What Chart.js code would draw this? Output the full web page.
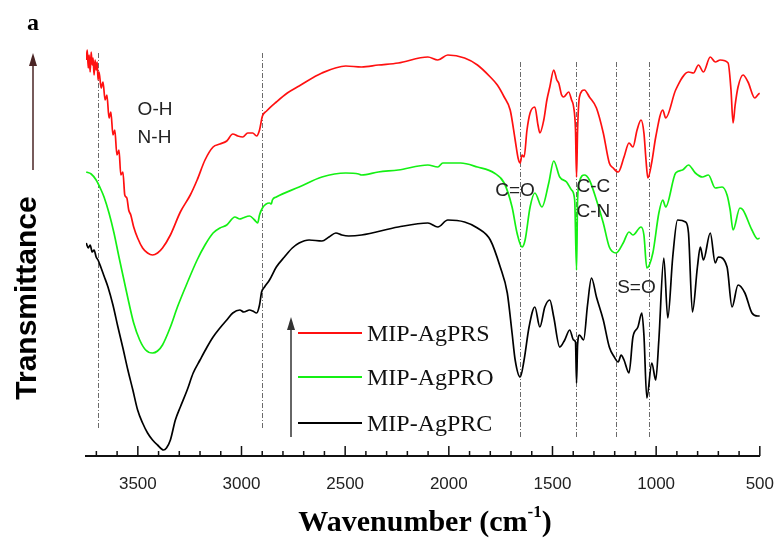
<!DOCTYPE html>
<html>
<head>
<meta charset="utf-8">
<script src="https://cdn.jsdelivr.net/npm/chart.js@4.4.1/dist/chart.umd.min.js"></script>
<style>
  html, body { margin: 0; padding: 0; background: #fff; }
  #wrap { width: 784px; height: 541px; position: relative; }
</style>
</head>
<body>
<div id="wrap"><canvas id="ftir"></canvas></div>
<script>
// FTIR spectra, wavenumber (cm-1) vs transmittance (a.u., curves stacked)
const redWn = [3749,3744,3739,3735,3730,3725,3720,3716,3711,3706,3701,3696,3692,3687,3677,3668,3658,3649,3639,3630,3620,3611,3601,3591,3582,3572,3563,3553,3544,3534,3520,3501,3477,3453,3429,3405,3381,3343,3295,3247,3214,3176,3137,3104,3071,3042,3018,2994,2970,2946,2927,2913,2899,2879,2832,2779,2722,2612,2497,2421,2340,2244,2101,2053,2005,1924,1862,1800,1766,1733,1704,1680,1666,1656,1647,1637,1623,1608,1585,1570,1561,1542,1527,1513,1494,1479,1470,1456,1446,1422,1408,1398,1389,1384,1379,1370,1346,1322,1288,1255,1226,1207,1183,1155,1131,1112,1092,1073,1059,1049,1040,1021,1002,968,954,906,844,820,796,772,739,715,691,653,639,629,619,605,581,557,524,510,500];
const redT = [396,406,388,401,384,404,391,398,381,396,386,394,376,384,368,374,356,361,338,344,321,326,301,306,281,284,261,258,246,241,229,218,208,203,201,203,208,221,244,261,276,296,309,312,315,322,320,319,323,323,320,326,340,345,354,363,370,383,390,389,391,393,399,396,401,398,391,379,371,359,346,316,298,293,301,299,326,343,349,331,323,336,356,369,386,376,373,361,359,364,356,349,326,279,326,359,366,359,348,323,293,288,284,299,313,309,326,336,323,296,278,294,319,346,338,366,384,383,391,384,399,394,396,393,366,333,351,369,381,374,358,361,363];

const greenWn = [3749,3725,3701,3677,3663,3639,3615,3591,3567,3544,3520,3491,3462,3429,3405,3381,3343,3309,3262,3214,3176,3137,3104,3071,3032,3008,2994,2961,2937,2922,2913,2899,2865,2856,2851,2832,2722,2612,2497,2435,2421,2340,2244,2101,2053,2029,1943,1862,1781,1733,1695,1671,1647,1632,1608,1585,1551,1518,1494,1465,1432,1408,1393,1384,1379,1370,1346,1322,1288,1255,1226,1193,1159,1131,1112,1073,1059,1045,1016,987,968,954,906,873,844,811,777,748,715,682,658,643,629,596,581,538,510,500];
const greenT = [284,282,276,266,259,243,223,199,176,154,133,116,106,103,105,111,129,149,173,196,211,223,228,231,239,237,238,240,236,233,241,248,253,252,256,259,269,279,283,282,281,284,286,291,289,293,293,289,283,273,249,223,209,216,249,263,249,273,295,279,274,266,256,186,256,274,281,276,256,233,209,203,213,224,221,229,221,188,203,243,256,249,283,286,291,283,279,281,268,269,261,246,226,248,246,226,217,218];

const blackWn = [3749,3739,3730,3720,3711,3701,3692,3677,3663,3644,3620,3596,3572,3548,3524,3501,3477,3453,3429,3405,3376,3362,3343,3319,3295,3262,3233,3200,3166,3137,3104,3071,3042,3008,2989,2961,2946,2927,2913,2903,2889,2865,2832,2793,2755,2722,2674,2612,2578,2545,2516,2483,2421,2244,2101,2053,2005,1924,1862,1800,1752,1718,1695,1680,1656,1637,1613,1585,1561,1537,1513,1494,1465,1441,1417,1398,1389,1384,1379,1370,1350,1331,1312,1288,1255,1226,1202,1183,1169,1155,1131,1112,1088,1069,1059,1045,1021,1002,987,963,944,920,897,858,844,825,801,787,772,739,715,701,658,634,605,572,538,510,500];
const blackT = [213,208,211,204,206,199,196,188,180,169,151,129,108,86,66,46,33,23,16,11,6,8,16,36,49,66,83,96,109,119,128,136,143,146,144,146,145,143,151,164,169,176,189,199,208,213,216,215,219,223,221,220,221,229,233,229,236,234,228,216,189,163,123,96,79,96,129,149,129,149,156,139,109,116,126,116,114,73,111,121,116,151,178,159,136,109,99,94,101,96,83,119,129,143,121,58,93,76,116,198,138,199,236,234,223,144,189,209,196,223,193,199,189,149,171,163,143,140,140];

const seriesNames = ['MIP-AgPRS', 'MIP-AgPRO', 'MIP-AgPRC'];
const seriesColors = ['#ff1010', '#14f014', '#000000'];

// band positions marked with dashed lines
const markerWn = [3690, 2900, 1655, 1385, 1195, 1035];
const bandNames = ['O-H', 'N-H', 'C=O', 'C-C', 'C-N', 'S=O'];

const SANS = 'Arial, "Liberation Sans", sans-serif';
const SERIF = '"Times New Roman", "Liberation Serif", serif';

function toPoints(wn, t) {
  return wn.map((w, i) => ({ x: w, y: t[i] }));
}

function arrowUp(ctx, x, yBottom, yTop, color) {
  ctx.strokeStyle = color;
  ctx.fillStyle = color;
  ctx.lineWidth = 1.5;
  ctx.beginPath();
  ctx.moveTo(x, yBottom);
  ctx.lineTo(x, yTop + 10);
  ctx.stroke();
  ctx.beginPath();
  ctx.moveTo(x, yTop);
  ctx.lineTo(x - 4, yTop + 13);
  ctx.lineTo(x + 4, yTop + 13);
  ctx.closePath();
  ctx.fill();
}

const decor = {
  id: 'decor',
  beforeDatasetsDraw(chart) {
    const { ctx, scales: { x } } = chart;
    ctx.save();
    ctx.strokeStyle = '#6a6a6a';
    ctx.lineWidth = 1;
    ctx.setLineDash([5, 2, 1, 2]);
    markerWn.forEach((wn, i) => {
      const px = Math.round(x.getPixelForValue(wn)) + 0.5;
      const top = i < 2 ? 53 : 62;
      const bot = i < 2 ? 428 : 437;
      ctx.beginPath();
      ctx.moveTo(px, top);
      ctx.lineTo(px, bot);
      ctx.stroke();
    });
    ctx.restore();
  },
  afterDraw(chart) {
    const { ctx, chartArea, scales: { x, y } } = chart;
    ctx.save();

    // inward ticks, minor every 100
    ctx.strokeStyle = '#111';
    ctx.lineWidth = 1.5;
    ctx.beginPath();
    x.ticks.forEach(t => {
      if (t.value % 100 !== 0) return;
      const px = x.getPixelForValue(t.value);
      const len = t.value % 500 === 0 ? 10 : 5;
      ctx.moveTo(px, chartArea.bottom);
      ctx.lineTo(px, chartArea.bottom - len);
    });
    ctx.stroke();

    // band labels
    ctx.fillStyle = '#222';
    ctx.font = '19px ' + SANS;
    ctx.textBaseline = 'middle';
    ctx.textAlign = 'left';
    const spots = [[3501, 346], [3501, 318], [1776, 265], [1384, 269], [1384, 244], [1188, 168]];
    bandNames.forEach((name, i) => {
      ctx.fillText(name, x.getPixelForValue(spots[i][0]), y.getPixelForValue(spots[i][1]));
    });

    // legend block with arrow
    arrowUp(ctx, 291, 437, 317, '#333');
    const rows = [333, 377, 423];
    ctx.font = '24px ' + SERIF;
    seriesNames.forEach((name, i) => {
      ctx.strokeStyle = seriesColors[i];
      ctx.lineWidth = 2;
      ctx.beginPath();
      ctx.moveTo(298, rows[i]);
      ctx.lineTo(362, rows[i]);
      ctx.stroke();
      ctx.fillStyle = '#111';
      ctx.fillText(name, 367, rows[i] + 2);
    });

    // y-axis arrow and title
    arrowUp(ctx, 33, 170, 53, '#4a2424');
    ctx.save();
    ctx.translate(28, 298);
    ctx.rotate(-Math.PI / 2);
    ctx.textAlign = 'center';
    ctx.fillStyle = '#000';
    ctx.font = 'bold 30px ' + SANS;
    ctx.fillText('Transmittance', 0, 0);
    ctx.restore();

    // panel letter
    ctx.fillStyle = '#000';
    ctx.textBaseline = 'alphabetic';
    ctx.font = 'bold 24px ' + SERIF;
    ctx.fillText('a', 27, 30);

    // x-axis title with superscript
    const main = 'Wavenumber (cm';
    const sup = '-1';
    ctx.font = 'bold 30px ' + SERIF;
    const wMain = ctx.measureText(main).width;
    const wClose = ctx.measureText(')').width;
    ctx.font = 'bold 17px ' + SERIF;
    const wSup = ctx.measureText(sup).width;
    let tx = 425 - (wMain + wSup + wClose) / 2;
    ctx.font = 'bold 30px ' + SERIF;
    ctx.fillText(main, tx, 531);
    tx += wMain;
    ctx.font = 'bold 17px ' + SERIF;
    ctx.fillText(sup, tx, 517);
    tx += wSup;
    ctx.font = 'bold 30px ' + SERIF;
    ctx.fillText(')', tx, 531);

    ctx.restore();
  }
};

new Chart(document.getElementById('ftir'), {
  type: 'line',
  data: {
    datasets: [
      { label: seriesNames[2], data: toPoints(blackWn, blackT), borderColor: seriesColors[2] },
      { label: seriesNames[1], data: toPoints(greenWn, greenT), borderColor: seriesColors[1] },
      { label: seriesNames[0], data: toPoints(redWn, redT), borderColor: seriesColors[0] }
    ]
  },
  options: {
    responsive: true,
    maintainAspectRatio: false,
    animation: false,
    layout: { padding: { top: 40, left: 86, right: 19, bottom: 0 } },
    elements: {
      point: { radius: 0 },
      line: { borderWidth: 1.7, cubicInterpolationMode: 'monotone', fill: false }
    },
    plugins: {
      legend: { display: false },
      tooltip: { enabled: false }
    },
    scales: {
      x: {
        type: 'linear',
        min: 500,
        max: 3750,
        reverse: true,
        grid: { display: false },
        border: { display: true, color: '#111', width: 2 },
        ticks: {
          stepSize: 100,
          maxTicksLimit: 40,
          includeBounds: false,
          autoSkip: false,
          maxRotation: 0,
          padding: 10,
          color: '#222',
          font: { family: SANS, size: 17 },
          callback: v => (v % 500 === 0 ? String(v) : '')
        },
        afterFit: s => { s.height = 85; }
      },
      y: { display: false, min: 0, max: 416 }
    }
  },
  plugins: [decor]
});
</script>
</body>
</html>
